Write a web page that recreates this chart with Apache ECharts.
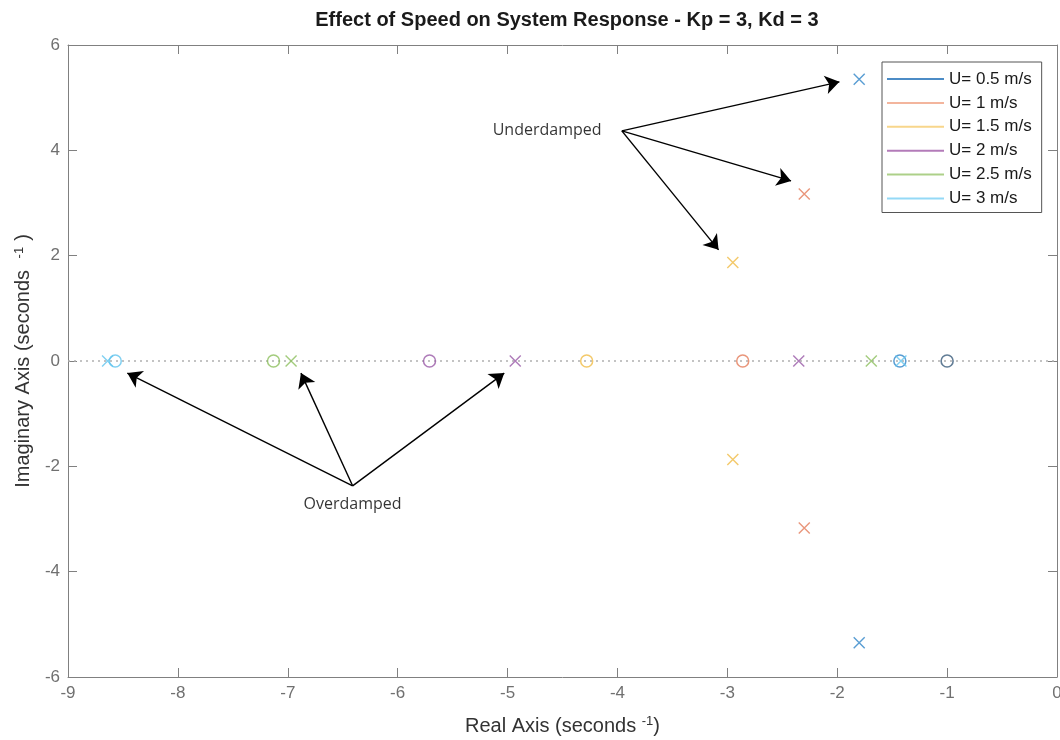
<!DOCTYPE html>
<html>
<head>
<meta charset="utf-8">
<script src="https://cdn.jsdelivr.net/npm/echarts@6/dist/echarts.min.js"></script>
<style>
html,body{margin:0;padding:0;background:#fff;}
#chart{width:1060px;height:740px;}
</style>
</head>
<body>
<div id="chart"></div>
<script>
// ---- data ----
const speeds = ['U= 0.5 m/s', 'U= 1 m/s', 'U= 1.5 m/s', 'U= 2 m/s', 'U= 2.5 m/s', 'U= 3 m/s'];
const poleRe = [[-1.8, -1.8], [-2.3, -2.3], [-2.95, -2.95], [-4.93, -2.35], [-6.97, -1.69], [-8.64, -1.42]];
const poleIm = [[5.35, -5.35], [3.17, -3.17], [1.87, -1.87], [0, 0], [0, 0], [0, 0]];
const zeroRe = [-1.43, -2.86, -4.28, -5.71, -7.13, -8.57];
const commonZeroRe = [-1];
const xTicks = [-9, 0, 1];   // min, max, step
const yTicks = [-6, 6, 2];
const underLabel = {text: 'Underdamped', at: [-4.64, 4.37]};
const overLabel = {text: 'Overdamped', at: [-6.41, -2.73]};
const underArrows = {from: [-3.96, 4.37], to: [[-1.98, 5.30], [-2.42, 3.42], [-3.08, 2.11]]};
const overArrows = {from: [-6.41, -2.37], to: [[-8.46, -0.23], [-6.88, -0.23], [-5.03, -0.23]]};

// ---- style ----
const markerColors = ['#2f84c8', '#e47c5a', '#f0bb45', '#9a5aa8', '#8cbf5c', '#62c4ee'];
const legendColors = ['#1f6fb8', '#f0a384', '#f6cc6e', '#a05aa8', '#99c46c', '#79d0f4'];
const axisCol = '#808080';
const labCol = '#707070';
const narrow = '"Liberation Sans Narrow", "Liberation Sans", Arial, sans-serif';
const crossPath = 'path://M0,0L10,10M10,0L0,10';

const series = [];
// dotted zero line
series.push({
  type: 'scatter', name: '_zero', data: [], silent: true, z: 1,
  markLine: {
    silent: true, symbol: 'none', animation: false,
    label: {show: false},
    lineStyle: {color: '#b0b0b0', type: [2, 4], width: 1.5},
    data: [{yAxis: 0}]
  }
});
speeds.forEach((s, i) => {
  const pts = poleRe[i].map((r, k) => [r, poleIm[i][k]]);
  series.push({
    type: 'scatter', name: s, data: pts, z: 5,
    symbol: crossPath, symbolSize: 11,
    itemStyle: {color: 'transparent', borderColor: markerColors[i], borderWidth: 1.4},
    emphasis: {disabled: true}
  });
  series.push({
    type: 'scatter', name: s, data: [[zeroRe[i], 0]], z: 5,
    symbol: 'circle', symbolSize: 12,
    itemStyle: {color: 'transparent', borderColor: markerColors[i], borderWidth: 1.5},
    emphasis: {disabled: true}
  });
});
series.push({
  type: 'scatter', name: '_common', data: commonZeroRe.map(r => [r, 0]), z: 6,
  symbol: 'circle', symbolSize: 12,
  itemStyle: {color: 'transparent', borderColor: '#3b5d7c', borderWidth: 1.6}
});
// arrows
const arrowData = [];
[underArrows, overArrows].forEach(a => {
  a.to.forEach(t => arrowData.push([{coord: a.from, symbol: 'none'}, {coord: t, symbol: 'arrow', symbolSize: 14}]));
});
series.push({
  type: 'scatter', name: '_arrows', data: [], z: 7,
  markLine: {
    silent: true, animation: false,
    symbol: ['none', 'arrow'], symbolSize: 14,
    label: {show: false},
    itemStyle: {color: '#000'},
    lineStyle: {color: '#000', type: 'solid', width: 1.4},
    data: arrowData
  }
});
// labels
series.push({
  type: 'scatter', name: '_labels', z: 8, symbolSize: 0, silent: true,
  data: [underLabel, overLabel].map(l => ({name: l.text, value: l.at})),
  label: {show: true, position: 'inside', formatter: '{b}', color: '#000', fontSize: 16, fontFamily: '"Open Sans", "Noto Sans", sans-serif'}
});

const baseAxis = {
  axisLine: {show: true, onZero: false, lineStyle: {color: axisCol, width: 1}},
  axisTick: {show: true, inside: true, length: 9, lineStyle: {color: axisCol}},
  splitLine: {show: false}
};
const nameRich = {
  a: {fontSize: 20, color: '#333', fontFamily: narrow},
  g: {fontSize: 20, color: '#333', fontFamily: narrow, width: 6},
  s: {fontSize: 13, color: '#333', fontFamily: narrow, verticalAlign: 'top', padding: [0, 0, 10, 0]}
};

const option = {
  animation: false,
  backgroundColor: '#fff',
  title: {
    text: 'Effect of Speed on System Response - Kp = 3, Kd = 3',
    left: 562, textAlign: 'center', top: 5,
    textStyle: {fontSize: 20, fontWeight: 'bold', color: '#1a1a1a', fontFamily: narrow}
  },
  legend: {
    left: 882, top: 62, orient: 'vertical',
    padding: [8, 10, 5, 5], itemGap: 5.9,
    itemWidth: 57, itemHeight: 2,
    borderColor: '#555', borderWidth: 1, backgroundColor: '#fff',
    textStyle: {fontSize: 17, color: '#1a1a1a', lineHeight: 18, fontFamily: 'Liberation Sans, Arial, sans-serif'},
    data: speeds.map((s, i) => ({name: s, icon: 'rect', itemStyle: {color: legendColors[i], borderWidth: 0}}))
  },
  grid: {left: 68, right: 3, top: 45, bottom: 63, containLabel: false, outerBoundsMode: 'none'},
  xAxis: [
    Object.assign({}, baseAxis, {
      type: 'value', min: xTicks[0], max: xTicks[1], interval: xTicks[2], position: 'bottom',
      axisLabel: {color: labCol, fontSize: 17, margin: 8, fontFamily: narrow},
      name: '{a|Real Axis (seconds }{s|-1}{a|)}', nameLocation: 'middle', nameGap: 38,
      nameTextStyle: {rich: nameRich}
    }),
    Object.assign({}, baseAxis, {
      type: 'value', min: xTicks[0], max: xTicks[1], interval: xTicks[2], position: 'top',
      axisLabel: {show: false}
    })
  ],
  yAxis: [
    Object.assign({}, baseAxis, {
      type: 'value', min: yTicks[0], max: yTicks[1], interval: yTicks[2], position: 'left',
      axisLabel: {color: labCol, fontSize: 17, margin: 8, fontFamily: narrow},
      name: '{a|Imaginary Axis (seconds }{g|}{s|-1}{g|}{a|)}', nameLocation: 'middle', nameGap: 25, nameRotate: 90,
      nameTextStyle: {rich: nameRich}
    }),
    Object.assign({}, baseAxis, {
      type: 'value', min: yTicks[0], max: yTicks[1], interval: yTicks[2], position: 'right',
      axisLabel: {show: false}
    })
  ],
  series: series
};

const chart = echarts.init(document.getElementById('chart'), null, {renderer: 'canvas'});
chart.setOption(option);
</script>
</body>
</html>
